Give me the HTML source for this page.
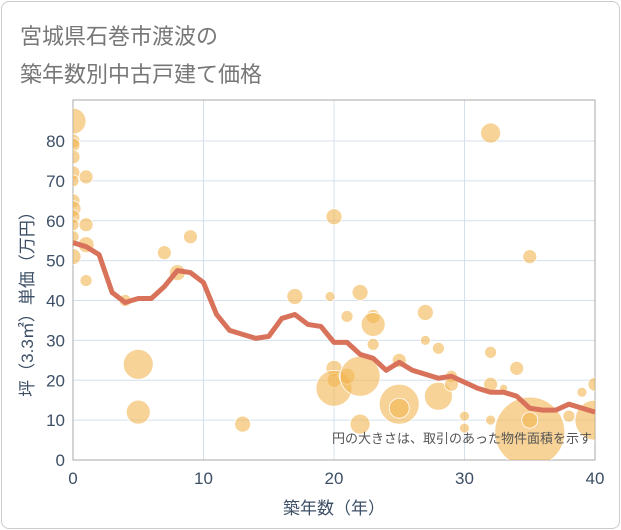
<!DOCTYPE html>
<html><head><meta charset="utf-8"><style>
body{margin:0;background:#fff;}
#card{position:absolute;left:1px;top:1px;width:617px;height:526px;border:1px solid #ccc;border-radius:8px;background:#fff;}
.t{position:absolute;left:18px;font:22px "Liberation Sans","Noto Sans CJK JP",sans-serif;color:#777;}
</style></head><body>
<div id="card">
<div class="t" style="top:17px">宮城県石巻市渡波の</div>
<div class="t" style="top:55px">築年数別中古戸建て価格</div>
</div>
<svg id="chart" width="621" height="530" style="position:absolute;left:0;top:0"></svg>
<script>
const lineYears=[0,1,2,3,4,5,6,7,8,9,10,11,12,13,14,15,16,17,18,19,20,21,22,23,24,25,26,27,28,29,30,31,32,33,34,35,36,37,38,39,40];
const lineValues=[54.5,53.5,51.5,42,39.5,40.5,40.5,43.5,47.5,47,44.5,36.5,32.5,31.5,30.5,31,35.5,36.5,34,33.5,29.5,29.5,26.5,25.5,22.5,24.5,22.5,21.5,20.5,21,19.5,18,17,17,16,13,12.5,12.5,14,13,12];
const bubbleYears=[0,0,0,0,0,0,0,0,0,0,0,0,1,1,1,1,4,5,5,7,8,9,13,17,19.7,20,20,20,20,21,21,22,22,22,23,23,23,25,25,25,27,27,28,28,29,29,30,30,32,32,32,32,33,34,35,35,35,38,39,40,40];
const bubblePrices=[85,80,79,76,72,70,65,63,61,59,56,51,71,59,54,45,40,24,12,52,47,56,9,41,41,61,23,20,18,36,21,42,21,9,36,34,29,25,14,13,37,30,28,16,21,19,11,8,82,27,19,10,18,23,51,7,10,11,17,19,10];
const bubbleSizes=[13,7,7,7,7,6,7,8,7,6,6,8,7,7,8,6,6,15,12,7,8,7,8,8,5,8,8,7,18,6,8,8,20,10,7,12,6,7,20,10,8,5,6,14,6,7,5,5,10,6,7,5,4,7,7,35,8,6,5,7,20];
const xTicks=[0,10,20,30,40];
const yTicks=[0,10,20,30,40,50,60,70,80];
const L=73,R=595,T=100,B=460;
const xs=v=>L+(R-L)*v/40;
const ys=v=>B-(B-141)*v/80;
const svg=document.getElementById('chart');
const NS='http://www.w3.org/2000/svg';
function mk(tag,attrs,parent){const e=document.createElementNS(NS,tag);for(const k in attrs)e.setAttribute(k,attrs[k]);(parent||svg).appendChild(e);return e;}
const defs=mk('clipPath',{id:'clip'});mk('rect',{x:L,y:T,width:R-L,height:B-T},defs);
yTicks.forEach(v=>{const g=mk('line',{x1:L,x2:R,y1:ys(v),y2:ys(v),stroke:'#d5e0ec','stroke-width':1});


const t=mk('text',{x:L-8,y:ys(v)+6,'text-anchor':'end','font-size':17,fill:'#3d4f66','font-family':'Liberation Sans,sans-serif'});t.textContent=v;

});
xTicks.forEach(v=>{const g=mk('line',{x1:xs(v),x2:xs(v),y1:T,y2:B,stroke:'#d5e0ec','stroke-width':1});


const t=mk('text',{x:xs(v),y:B+24,'text-anchor':'middle','font-size':17,fill:'#3d4f66','font-family':'Liberation Sans,sans-serif'});t.textContent=v;

});
mk('rect',{x:L,y:T,width:R-L,height:B-T,fill:'none',stroke:'#aaa','stroke-width':1});
const bg=mk('g',{'clip-path':'url(#clip)'});
bubbleYears.forEach((x,i)=>{const c=mk('circle',{cx:xs(x),cy:ys(bubblePrices[i]),r:bubbleSizes[i],fill:'#f2b552','fill-opacity':0.6,stroke:'#fff','stroke-width':0.8},bg);

});
const p=mk('polyline',{points:lineYears.map((x,i)=>xs(x)+','+ys(lineValues[i])).join(' '),fill:'none',stroke:'#d9725a','stroke-width':5,'stroke-linejoin':'round'});


const n=mk('text',{x:592,y:443,'text-anchor':'end','font-size':13,fill:'#555','font-family':'Liberation Sans,Noto Sans CJK JP,sans-serif'});n.textContent='円の大きさは、取引のあった物件面積を示す';


const xt=mk('text',{x:(L+R)/2,y:514,'text-anchor':'middle','font-size':17,fill:'#3d4f66','font-family':'Liberation Sans,Noto Sans CJK JP,sans-serif'});xt.textContent='築年数（年）';


const yt=mk('text',{x:0,y:0,transform:'translate(33,300) rotate(-90)','text-anchor':'middle','font-size':17,fill:'#3d4f66','font-family':'Liberation Sans,Noto Sans CJK JP,sans-serif'});yt.textContent='坪（3.3㎡）単価（万円）';


</script>
</body></html>
